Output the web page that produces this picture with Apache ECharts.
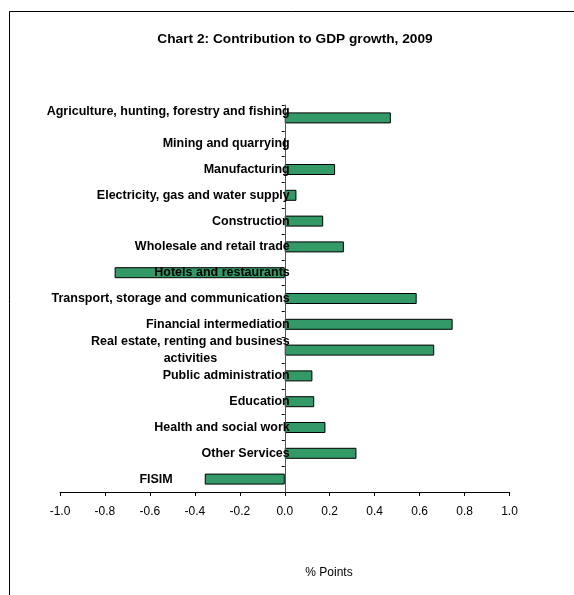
<!DOCTYPE html>
<html><head><meta charset="utf-8">
<script src="https://cdn.jsdelivr.net/npm/echarts@6/dist/echarts.min.js"></script>
<style>html,body{margin:0;padding:0;background:#fff}#c{width:574px;height:595px}</style>
</head><body><div id="c"></div>
<script>
const categories = [
  'Agriculture, hunting, forestry and fishing',
  'Mining and quarrying',
  'Manufacturing',
  'Electricity, gas and water supply',
  'Construction',
  'Wholesale and retail trade',
  'Hotels and restaurants',
  'Transport, storage and communications',
  'Financial intermediation',
  'Real estate, renting and business activities',
  'Public administration',
  'Education',
  'Health and social work',
  'Other Services',
  'FISIM'
];
const values = [0.472, 0.0, 0.224, 0.052, 0.171, 0.263, -0.757, 0.587, 0.747, 0.665, 0.123, 0.131, 0.181, 0.319, -0.356];
const xTicks = { min: -1.0, max: 1.0, interval: 0.2 };

const chart = echarts.init(document.getElementById('c'), null, {renderer: 'canvas'});
const font = 'Arial, "Liberation Sans", sans-serif';
const gridLeft = 60, gridRight = 64.5;
const plotW = 574 - gridLeft - gridRight;
const zeroOffset = -plotW * (0 - xTicks.min) / (xTicks.max - xTicks.min);
const lf = 12.5;
const base = {fontFamily: font, fontSize: lf, fontWeight: 'bold', color: '#000'};
chart.setOption({
  animation: false,
  backgroundColor: '#fff',
  title: {
    text: 'Chart 2: Contribution to GDP growth, 2009',
    left: 290, top: 27, textAlign: 'center',
    textStyle: {fontFamily: font, fontSize: 13.7, fontWeight: 'bold', color: '#000'}
  },
  graphic: [
    {type: 'rect', shape: {x: 9.5, y: 11.5, width: 600, height: 620}, style: {fill: 'none', stroke: '#000', lineWidth: 1}, silent: true},
    {type: 'text', x: 329, y: 573, style: {text: '% Points', font: '12px ' + font, fill: '#000', align: 'center', verticalAlign: 'middle'}}
  ],
  grid: {left: gridLeft, right: gridRight, top: 105, bottom: 103, containLabel: false, outerBoundsMode: 'none'},
  xAxis: {
    type: 'value', min: xTicks.min, max: xTicks.max, interval: xTicks.interval,
    axisLine: {show: true, onZero: false, lineStyle: {color: '#000', width: 1}},
    axisTick: {show: true, length: 4, lineStyle: {color: '#000'}},
    splitLine: {show: false},
    axisLabel: {margin: 14, fontFamily: font, fontSize: 12, color: '#000', formatter: v => v.toFixed(1)}
  },
  yAxis: {
    type: 'category', data: categories, inverse: true, offset: zeroOffset, z: 5,
    axisLine: {show: true, onZero: false, lineStyle: {color: '#555', width: 1}},
    axisTick: {show: true, length: 3, lineStyle: {color: '#000'}},
    axisLabel: {
      margin: -5, fontFamily: font, fontSize: lf, fontWeight: 'bold', color: '#000',
      formatter: function (v) {
        if (v.indexOf('Real estate') === 0) return '{a|Real estate, renting and business}\n{b|activities}';
        if (v.indexOf('Agriculture') === 0) return '{up|' + v + '}';
        if (v === 'FISIM') return '{left|' + v + '}';
        return v;
      },
      rich: {
        a: Object.assign({lineHeight: 17.5}, base),
        b: Object.assign({lineHeight: 17.5, align: 'center'}, base),
        up: Object.assign({padding: [0, 0, 13, 0]}, base),
        left: Object.assign({padding: [0, 117, 0, 0]}, base)
      }
    }
  },
  series: [{
    type: 'bar', data: values, barWidth: 11, z: 2,
    itemStyle: {color: '#339966', borderColor: '#000', borderWidth: 1}
  }]
});
</script></body></html>
